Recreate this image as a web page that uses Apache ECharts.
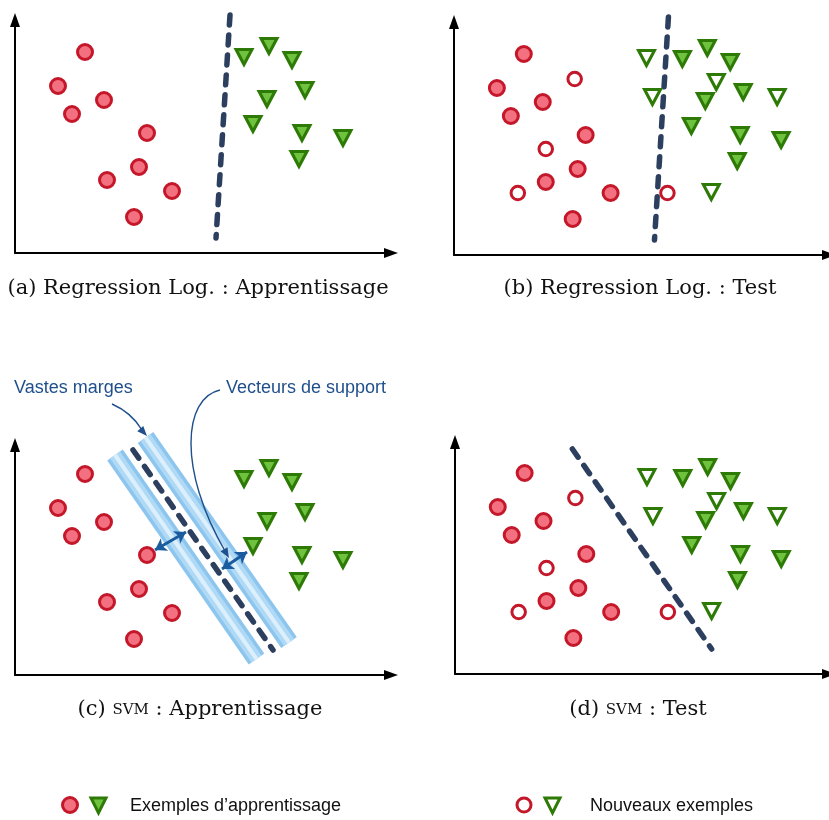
<!DOCTYPE html>
<html><head><meta charset="utf-8">
<script src="https://cdn.jsdelivr.net/npm/echarts@6/dist/echarts.min.js"></script>
<style>html,body{margin:0;padding:0;background:#fff}#c{width:829px;height:820px}</style>
</head><body><div id="c"></div>
<script>
// ---- data (feature space units) ----
const trainCircles = [[7.0,20.1],[4.3,16.7],[8.9,15.3],[5.7,13.9],[13.2,12.0],[12.4,8.6],[9.2,7.3],[15.7,6.2],[11.9,3.6]];
const trainTriangles = [[22.9,19.6],[25.4,20.7],[27.7,19.3],[29.0,16.3],[25.2,15.4],[23.8,12.9],[28.7,12.0],[32.8,11.5],[28.4,9.4]];
const newCircles = [[12.1,17.6],[9.2,10.6],[6.4,6.2],[21.4,6.2]];
const newTriangles = [[19.3,19.7],[26.3,17.3],[19.9,15.8],[32.4,15.8],[25.8,6.3]];
const logRegBoundary = [[21.5,23.8],[20.1,1.5]];
const svmBoundary = [[11.8,22.5],[25.8,2.5]];
const svmMarginLeft = [[10.0,22.0],[24.15,1.6]];
const svmMarginRight = [[13.05,23.75],[27.4,3.25]];
const supportArrows = [[[14.0,12.5],[17.1,14.3]],[[20.7,10.6],[23.2,12.3]]];
const captions = ['(a) Regression Log. : Apprentissage','(b) Regression Log. : Test','(c) {sc|SVM} : Apprentissage','(d) {sc|SVM} : Test'];
const annotationLabels = ['Vastes marges','Vecteurs de support'];
const legendLabels = ['Exemples d\u2019apprentissage','Nouveaux exemples'];

// ---- styles ----
const RED='#c4172a', PINK='#f2707f', DGREEN='#2e7a06', LGREEN='#6fc23e', NAVY='#2d3f5f', BLUE='#1f4f8c';
const grids = [
  {left:15, top:20, width:376, height:233},
  {left:454, top:22, width:376, height:233},
  {left:15, top:445, width:376, height:230},
  {left:455, top:442, width:376, height:232}
];
const axisCommon = {
  axisTick:{show:false}, axisLabel:{show:false}, splitLine:{show:false},
  axisLine:{show:true, symbol:['none','triangle'], symbolSize:[10,14], lineStyle:{color:'#000', width:2}}
};
const xAxes = grids.map((g,i)=>Object.assign({type:'value', gridIndex:i, min:0, max:g.width/10}, axisCommon));
const yAxes = grids.map((g,i)=>Object.assign({type:'value', gridIndex:i, min:0, max:g.height/10}, axisCommon));

function scatter(i, data, filled, shape){
  const circ = shape==='circle';
  return {type:'scatter', xAxisIndex:i, yAxisIndex:i, data:data, z:5, silent:true,
    symbol: circ?'circle':'triangle', symbolRotate: circ?0:180,
    symbolSize: circ?(filled?15:13.5):[16,15],
    itemStyle:{opacity:1, color: filled?(circ?PINK:LGREEN):'#fff', borderColor: circ?RED:DGREEN, borderWidth:3}};
}
function dashed(i, data){
  return {type:'line', xAxisIndex:i, yAxisIndex:i, data:data, showSymbol:false, symbol:'none', clip:false, z:4, silent:true,
    lineStyle:{color:NAVY, width:5.5, type:[10,10], cap:'round', opacity:1}};
}
function band(i, data){
  return [[19,'#8cc6ef'],[12,'#b0d9f6'],[4,'#dcefFC']].map(([w,c])=>({type:'line', xAxisIndex:i, yAxisIndex:i, data:data,
    showSymbol:false, symbol:'none', clip:false, z:3, silent:true, lineStyle:{color:c, width:w, cap:'butt', opacity:1}}));
}
const series = [];
[0,1,2,3].forEach(i=>{
  series.push(scatter(i, trainCircles, true, 'circle'));
  series.push(scatter(i, trainTriangles, true, 'triangle'));
  if(i===1||i===3){
    series.push(scatter(i, newCircles, false, 'circle'));
    series.push(scatter(i, newTriangles, false, 'triangle'));
  }
});
series.push(dashed(0, logRegBoundary));
series.push(dashed(1, logRegBoundary));
band(2, svmMarginLeft).forEach(s=>series.push(s));
band(2, svmMarginRight).forEach(s=>series.push(s));
series.push(dashed(2, svmBoundary));
series.push(dashed(3, svmBoundary));
series.push({type:'lines', coordinateSystem:'cartesian2d', xAxisIndex:2, yAxisIndex:2, z:6, silent:true,
  symbol:['arrow','arrow'], symbolSize:11,
  lineStyle:{color:'#1b5c9e', width:3, opacity:1, curveness:0},
  data: supportArrows.map(c=>({coords:c}))});

// ---- decorations ----
function arrowHead(tip, dir, len, wid, color){
  const n=Math.hypot(dir[0],dir[1]); const ux=dir[0]/n, uy=dir[1]/n;
  const bx=tip[0]-ux*len, by=tip[1]-uy*len;
  return {type:'polygon', z:100, shape:{points:[tip,[bx-uy*wid/2,by+ux*wid/2],[bx+uy*wid/2,by-ux*wid/2]]}, style:{fill:color}};
}
const capPos = [[198,289],[640,289],[200,710],[638,710]];
const graphics = [];
captions.forEach((t,k)=>graphics.push({type:'text', z:100, x:capPos[k][0], y:capPos[k][1],
  style:{text:t, fill:'#111', fontFamily:'DejaVu Serif', fontSize:21, align:'center', verticalAlign:'middle',
    rich:{sc:{fontFamily:'DejaVu Serif', fontSize:15, fill:'#111'}}}}));
graphics.push({type:'text', z:100, x:14, y:388, style:{text:annotationLabels[0], fill:BLUE, fontFamily:'Liberation Sans', fontSize:18, align:'left', verticalAlign:'middle'}});
graphics.push({type:'text', z:100, x:226, y:388, style:{text:annotationLabels[1], fill:BLUE, fontFamily:'Liberation Sans', fontSize:18, align:'left', verticalAlign:'middle'}});
graphics.push({type:'bezierCurve', z:100, shape:{x1:112,y1:404,x2:142,y2:430,cpx1:128,cpy1:411,cpx2:136,cpy2:420}, style:{stroke:BLUE, lineWidth:1.4, fill:null}});
graphics.push(arrowHead([147,436],[1,1.1],10,8,BLUE));
graphics.push({type:'bezierCurve', z:100, shape:{x1:220,y1:390,x2:225,y2:551,cpx1:183,cpy1:398,cpx2:178,cpy2:470}, style:{stroke:BLUE, lineWidth:1.4, fill:null}});
graphics.push(arrowHead([229,558],[0.5,0.86],10,8,BLUE));
// legend
graphics.push({type:'circle', z:100, shape:{cx:70,cy:805,r:7.5}, style:{fill:PINK, stroke:RED, lineWidth:3}});
graphics.push({type:'polygon', z:100, shape:{points:[[91,798],[106,798],[98.5,813]]}, style:{fill:LGREEN, stroke:DGREEN, lineWidth:3}});
graphics.push({type:'text', z:100, x:130, y:806, style:{text:legendLabels[0], fill:'#111', fontFamily:'Liberation Sans', fontSize:18, align:'left', verticalAlign:'middle'}});
graphics.push({type:'circle', z:100, shape:{cx:524,cy:805,r:7}, style:{fill:'#fff', stroke:RED, lineWidth:3}});
graphics.push({type:'polygon', z:100, shape:{points:[[545,798],[560,798],[552.5,813]]}, style:{fill:'#fff', stroke:DGREEN, lineWidth:3}});
graphics.push({type:'text', z:100, x:590, y:806, style:{text:legendLabels[1], fill:'#111', fontFamily:'Liberation Sans', fontSize:18, align:'left', verticalAlign:'middle'}});

const chart = echarts.init(document.getElementById('c'), null, {renderer:'canvas'});
chart.setOption({
  animation:false, backgroundColor:'#fff',
  grid: grids, xAxis: xAxes, yAxis: yAxes, series: series, graphic:{elements:graphics}
});
</script></body></html>
